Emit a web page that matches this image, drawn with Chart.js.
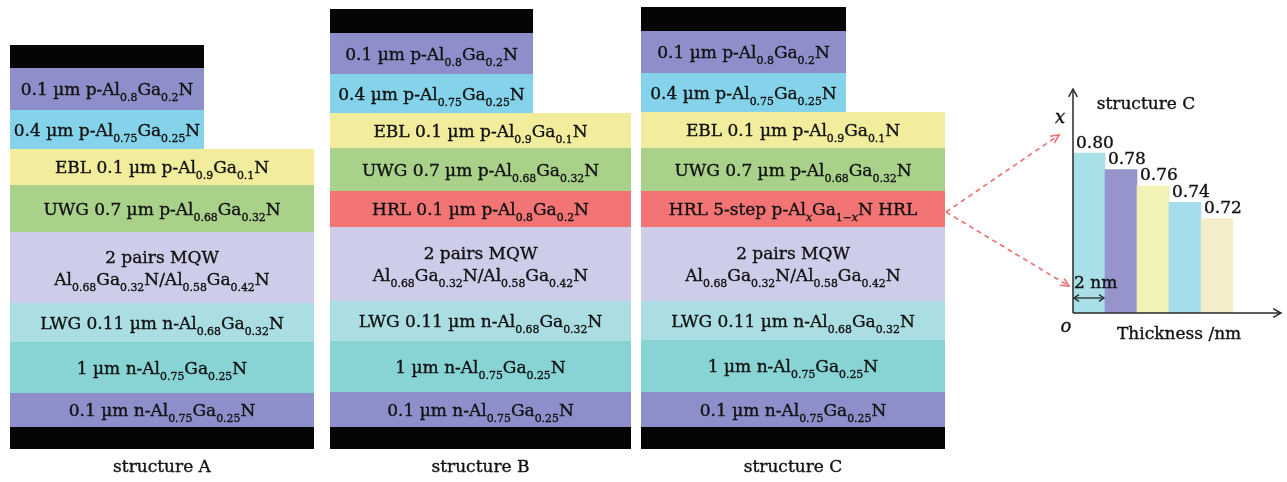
<!DOCTYPE html>
<html>
<head>
<meta charset="utf-8">
<script src="https://cdn.jsdelivr.net/npm/chart.js@4/dist/chart.umd.min.js"></script>
<style>
  html, body { margin: 0; padding: 0; background: #fff; }
  #wrap { position: relative; width: 1287px; height: 482px; overflow: hidden; }
  #stacks { position: absolute; left: 0; top: 0; }
  #inset { position: absolute; left: 1030px; top: 70px; }
</style>
</head>
<body>
<div id="wrap">
  <canvas id="stacks" width="1287" height="482"></canvas>
  <canvas id="inset" width="257" height="290"></canvas>
</div>
<script>
// ---- Epitaxial layer stacks (top = p-side contact, bottom = substrate side) ----
const structureNames = ['structure A', 'structure B', 'structure C'];

const kindsA = ['contact', 'pAl80', 'pAl75', 'ebl', 'uwg', 'mqw', 'lwg', 'nAl75', 'nAl75thin', 'contact'];
const labelsA = [
  '', '0.1 µm p-Al_{0.8}Ga_{0.2}N', '0.4 µm p-Al_{0.75}Ga_{0.25}N',
  'EBL 0.1 µm p-Al_{0.9}Ga_{0.1}N', 'UWG 0.7 µm p-Al_{0.68}Ga_{0.32}N',
  '2 pairs MQW|Al_{0.68}Ga_{0.32}N/Al_{0.58}Ga_{0.42}N',
  'LWG 0.11 µm n-Al_{0.68}Ga_{0.32}N', '1 µm n-Al_{0.75}Ga_{0.25}N',
  '0.1 µm n-Al_{0.75}Ga_{0.25}N', ''
];
const bandsA = [23, 42, 39, 36, 47, 71, 39, 51, 34, 22];

const kindsB = ['contact', 'pAl80', 'pAl75', 'ebl', 'uwg', 'hrl', 'mqw', 'lwg', 'nAl75', 'nAl75thin', 'contact'];
const labelsB = [
  '', '0.1 µm p-Al_{0.8}Ga_{0.2}N', '0.4 µm p-Al_{0.75}Ga_{0.25}N',
  'EBL 0.1 µm p-Al_{0.9}Ga_{0.1}N', 'UWG 0.7 µm p-Al_{0.68}Ga_{0.32}N',
  'HRL 0.1 µm p-Al_{0.8}Ga_{0.2}N',
  '2 pairs MQW|Al_{0.68}Ga_{0.32}N/Al_{0.58}Ga_{0.42}N',
  'LWG 0.11 µm n-Al_{0.68}Ga_{0.32}N', '1 µm n-Al_{0.75}Ga_{0.25}N',
  '0.1 µm n-Al_{0.75}Ga_{0.25}N', ''
];
const bandsB = [24, 41, 39, 35, 43, 36, 74, 40, 51, 35, 22];

const kindsC = ['contact', 'pAl80', 'pAl75', 'ebl', 'uwg', 'hrl', 'mqw', 'lwg', 'nAl75', 'nAl75thin', 'contact'];
const labelsC = [
  '', '0.1 µm p-Al_{0.8}Ga_{0.2}N', '0.4 µm p-Al_{0.75}Ga_{0.25}N',
  'EBL 0.1 µm p-Al_{0.9}Ga_{0.1}N', 'UWG 0.7 µm p-Al_{0.68}Ga_{0.32}N',
  'HRL 5-step p-Al_{x}Ga_{1−x}N HRL',
  '2 pairs MQW|Al_{0.68}Ga_{0.32}N/Al_{0.58}Ga_{0.42}N',
  'LWG 0.11 µm n-Al_{0.68}Ga_{0.32}N', '1 µm n-Al_{0.75}Ga_{0.25}N',
  '0.1 µm n-Al_{0.75}Ga_{0.25}N', ''
];
const bandsC = [24, 42, 39, 36, 43, 36, 74, 39, 52, 35, 22];

// ---- 5-step HRL of structure C: Al content x of each 2 nm step ----
const hrlSteps = ['1', '2', '3', '4', '5'];
const hrlAlContent = [0.80, 0.78, 0.76, 0.74, 0.72];
const hrlValueLabels = ['0.80', '0.78', '0.76', '0.74', '0.72'];

// ---- styling / layout ----
const layerColors = {
  contact: '#050505', pAl80: '#8e8fca', pAl75: '#84d3ea', ebl: '#f1ed9c',
  uwg: '#a9d189', hrl: '#f27475', mqw: '#cdcce9', lwg: '#aadee2',
  nAl75: '#88d4d5', nAl75thin: '#8d8fca'
};
const hrlColors = ['#a9dfe6', '#9595cc', '#f2f2b6', '#a6dded', '#f3eec9'];
const stackLeft = [10, 330, 641];
const stackTop = [45, 9, 7];
const narrowRight = [204, 533, 846];
const wideRight = [314, 631, 945];
const narrowLayers = 3;
const captionY = 468;
const FONT = '"DejaVu Serif", "Liberation Serif", serif';
const TEXT = '#111111';
const FS = 17;

const stacks = [
  { kinds: kindsA, labels: labelsA, bands: bandsA },
  { kinds: kindsB, labels: labelsB, bands: bandsB },
  { kinds: kindsC, labels: labelsC, bands: bandsC }
];

// text drawn with a hairline outline so the serif face reads a little heavier
function heavyText(ctx, t, x, y) {
  ctx.fillText(t, x, y);
  ctx.strokeText(t, x, y);
}

// rich text: "_{...}" is a subscript, the letter x inside it is italic
function toRuns(str, size) {
  const runs = [];
  const re = /_\{([^}]*)\}/g;
  let last = 0, m;
  const pushMain = t => { if (t) runs.push({ t, size, dy: 0, italic: false }); };
  while ((m = re.exec(str))) {
    pushMain(str.slice(last, m.index));
    m[1].split(/(x)/).forEach(part => {
      if (part) runs.push({ t: part, size: size * 0.64, dy: size * 0.37, italic: part === 'x' });
    });
    last = re.lastIndex;
  }
  pushMain(str.slice(last));
  return runs;
}
function fontOf(r) { return (r.italic ? 'italic ' : '') + r.size.toFixed(1) + 'px ' + FONT; }
function drawRich(ctx, str, x0, baseline, size, align) {
  const runs = toRuns(str, size);
  let total = 0;
  runs.forEach(r => { ctx.font = fontOf(r); r.w = ctx.measureText(r.t).width; total += r.w; });
  let x = align === 'left' ? x0 : x0 - total / 2;
  ctx.textAlign = 'left';
  ctx.textBaseline = 'alphabetic';
  ctx.fillStyle = TEXT;
  ctx.strokeStyle = TEXT;
  ctx.lineWidth = 0.35;
  runs.forEach(r => { ctx.font = fontOf(r); heavyText(ctx, r.t, x, baseline + r.dy); x += r.w; });
}
function arrowHead(ctx, x0, y0, x1, y1, len, spread) {
  const a = Math.atan2(y1 - y0, x1 - x0);
  ctx.beginPath();
  ctx.moveTo(x1 - len * Math.cos(a - spread), y1 - len * Math.sin(a - spread));
  ctx.lineTo(x1, y1);
  ctx.lineTo(x1 - len * Math.cos(a + spread), y1 - len * Math.sin(a + spread));
  ctx.stroke();
}

const hrlAnchor = { x: 0, y: 0 };

const layerStacks = {
  id: 'layerStacks',
  afterDraw(chart) {
    const { ctx, scales: { x, y } } = chart;
    ctx.save();
    stacks.forEach((st, si) => {
      let top = stackTop[si];
      const left = x.getPixelForValue(stackLeft[si]);
      st.bands.forEach((h, li) => {
        const bottom = top + h;
        const right = x.getPixelForValue(li < narrowLayers ? narrowRight[si] : wideRight[si]);
        const py0 = y.getPixelForValue(top), py1 = y.getPixelForValue(bottom);
        ctx.fillStyle = layerColors[st.kinds[li]];
        ctx.fillRect(left, py0, right - left, py1 - py0);
        const label = st.labels[li];
        if (label) {
          const cx = (left + right) / 2, cy = (py0 + py1) / 2;
          const lines = label.split('|');
          const gap = 22;
          lines.forEach((ln, k) => {
            const off = (k - (lines.length - 1) / 2) * gap;
            drawRich(ctx, ln, cx, cy + off + 6.2, FS, 'center');
          });
        }
        if (st.kinds[li] === 'hrl' && si === 2) {
          hrlAnchor.x = right + 1;
          hrlAnchor.y = (py0 + py1) / 2 + 3;
        }
        top = bottom;
      });
      const capX = (left + x.getPixelForValue(wideRight[si])) / 2;
      ctx.font = FS + 'px ' + FONT;
      ctx.fillStyle = TEXT;
      ctx.strokeStyle = TEXT;
      ctx.lineWidth = 0.35;
      ctx.textAlign = 'center';
      ctx.textBaseline = 'middle';
      heavyText(ctx, structureNames[si], capX, y.getPixelForValue(captionY));
    });

    // dashed pointers from the HRL of structure C to the step profile
    ctx.strokeStyle = '#ee6e6e';
    ctx.lineWidth = 1.6;
    [[1059, 135], [1069, 286]].forEach(([tx, ty]) => {
      const ex = x.getPixelForValue(tx), ey = y.getPixelForValue(ty);
      ctx.setLineDash([5, 4]);
      ctx.beginPath();
      ctx.moveTo(hrlAnchor.x, hrlAnchor.y);
      ctx.lineTo(ex, ey);
      ctx.stroke();
      ctx.setLineDash([]);
      arrowHead(ctx, hrlAnchor.x, hrlAnchor.y, ex, ey, 9, 0.45);
    });
    ctx.restore();
  }
};

new Chart(document.getElementById('stacks'), {
  type: 'scatter',
  data: { datasets: [] },
  options: {
    responsive: false,
    animation: false,
    layout: { padding: 0 },
    scales: {
      x: { type: 'linear', min: 0, max: 1287, display: false },
      y: { type: 'linear', min: 0, max: 482, reverse: true, display: false }
    },
    plugins: { legend: { display: false }, tooltip: { enabled: false } }
  },
  plugins: [layerStacks]
});

// ---- inset: Al content of the 5-step HRL ----
const insetDecor = {
  id: 'insetDecor',
  afterDatasetsDraw(chart) {
    const { ctx, chartArea: a } = chart;
    const bars = chart.getDatasetMeta(0).data;
    ctx.save();
    ctx.fillStyle = TEXT;
    ctx.strokeStyle = TEXT;
    ctx.lineWidth = 0.35;
    // value labels
    ctx.font = FS + 'px ' + FONT;
    ctx.textAlign = 'left';
    ctx.textBaseline = 'middle';
    bars.forEach((b, i) => {
      heavyText(ctx, hrlValueLabels[i], b.x - b.width / 2 + 3, b.y - 10);
    });
    // axis texts
    ctx.font = 'italic ' + (FS + 1) + 'px ' + FONT;
    ctx.textAlign = 'center';
    heavyText(ctx, 'x', 30, 48);
    heavyText(ctx, 'o', 36, 257);
    ctx.font = FS + 'px ' + FONT;
    heavyText(ctx, 'structure C', 116, 35);
    ctx.textAlign = 'left';
    heavyText(ctx, 'Thickness /nm', 87, 265);
    heavyText(ctx, '2 nm', a.left + 1, 214);
    // axes with arrows
    ctx.strokeStyle = '#2a2a2a';
    ctx.lineWidth = 1.5;
    ctx.beginPath();
    ctx.moveTo(a.left, a.bottom);
    ctx.lineTo(a.left, 19);
    ctx.moveTo(a.left, a.bottom);
    ctx.lineTo(251, a.bottom);
    ctx.stroke();
    arrowHead(ctx, a.left, a.bottom, a.left, 19, 9, 0.5);
    arrowHead(ctx, a.left, a.bottom, 251, a.bottom, 9, 0.5);
    // width of one step
    const w = bars[0].width;
    ctx.lineWidth = 1.3;
    ctx.beginPath();
    ctx.moveTo(a.left + 1, 228);
    ctx.lineTo(a.left + w - 1, 228);
    ctx.stroke();
    arrowHead(ctx, a.left + w, 228, a.left + 1, 228, 6, 0.6);
    arrowHead(ctx, a.left, 228, a.left + w - 1, 228, 6, 0.6);
    ctx.restore();
  }
};

new Chart(document.getElementById('inset'), {
  type: 'bar',
  data: {
    labels: hrlSteps,
    datasets: [{
      data: hrlAlContent,
      backgroundColor: hrlColors,
      borderWidth: 0,
      categoryPercentage: 1,
      barPercentage: 1
    }]
  },
  options: {
    responsive: false,
    animation: false,
    layout: { padding: { left: 43, right: 54, top: 21, bottom: 47 } },
    scales: {
      x: { display: false },
      y: { display: false, min: 0.605, max: 0.8757 }
    },
    plugins: { legend: { display: false }, tooltip: { enabled: false } }
  },
  plugins: [insetDecor]
});
</script>
</body>
</html>
